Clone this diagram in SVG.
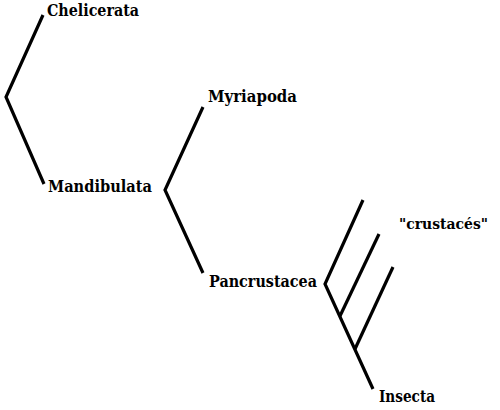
<svg xmlns="http://www.w3.org/2000/svg" width="500" height="410" viewBox="0 0 500 410">
<style>
.br{fill:none;stroke:#000;stroke-width:3.2;stroke-linejoin:miter;stroke-linecap:butt}
.lb{font-family:'DejaVu Serif',serif;font-weight:bold;font-size:17.5px;fill:#000}
</style>
<rect width="500" height="410" fill="#fff"/>
<g id="connectors">
<polyline class="br" points="43,15 6,97 44,184"/>
<polyline class="br" points="203,107 165,190 203,273"/>
<polyline class="br" points="363,200 325,284 373,389"/>
<line class="br" x1="340" y1="316" x2="379" y2="234"/>
<line class="br" x1="355" y1="349" x2="393" y2="267"/>
</g>
<g id="chelicerata"><text class="lb" x="47" y="16" textLength="92" lengthAdjust="spacingAndGlyphs">Chelicerata</text></g>
<g id="mandibulata"><text class="lb" x="48" y="192" textLength="104" lengthAdjust="spacingAndGlyphs">Mandibulata</text></g>
<g id="myriapoda"><text class="lb" x="208" y="102" textLength="89" lengthAdjust="spacingAndGlyphs">Myriapoda</text></g>
<g id="pancrustacea"><text class="lb" x="209" y="287" textLength="108" lengthAdjust="spacingAndGlyphs">Pancrustacea</text></g>
<g id="crustaces"><text class="lb" x="399" y="229" style="font-size:14.5px" textLength="89" lengthAdjust="spacingAndGlyphs">"crustacés"</text></g>
<g id="insecta"><text class="lb" x="379" y="402" textLength="56" lengthAdjust="spacingAndGlyphs">Insecta</text></g>
</svg>
